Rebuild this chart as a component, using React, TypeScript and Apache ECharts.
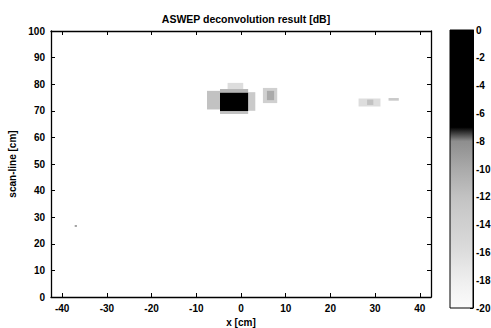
import React, { useEffect, useRef } from "react";
import * as echarts from "echarts";

// Colour scale of the deconvolution result: index i corresponds to (-20 + i) dB
const DB_MIN = -20;
const DB_MAX = 0;
const COLORMAP = [
  "#fbfbfb", "#f5f5f5", "#eeeeee", "#e6e6e6", "#dddddd",
  "#d6d6d6", "#d0d0d0", "#cacaca", "#c2c2c2", "#b6b6b6",
  "#aaaaaa", "#9c9c9c", "#8e8e8e", "#000000", "#000000",
  "#000000", "#000000", "#000000", "#000000", "#000000",
  "#000000",
];

// Reflector patches: [x0, x1, y0, y1, level in dB]  (x, y in cm)
const PATCHES: number[][] = [
  [-7.6, -4.7, 70.5, 77.5, -12],
  [-4.7, 1.6, 76.8, 78.2, -11],
  [-3.0, 0.5, 78.2, 80.5, -16],
  [-4.7, 1.6, 68.8, 69.9, -12],
  [1.6, 3.2, 70.0, 77.0, -13],
  [-4.7, 1.6, 69.9, 76.8, -1],
  [4.9, 8.1, 72.9, 78.6, -14],
  [5.8, 7.4, 74.0, 77.5, -10],
  [26.3, 31.2, 71.6, 74.6, -16],
  [28.2, 29.6, 72.2, 74.2, -12],
  [33.0, 35.3, 73.8, 74.8, -13],
  [-37.2, -36.7, 26.4, 27.0, -8],
];

const X_RANGE = [-42.5, 42.5];
const Y_RANGE = [0, 100];

const FONT = "Liberation Sans, Arial, sans-serif";
const labelStyle = { color: "#000", fontSize: 10, fontWeight: "bold" as const, fontFamily: FONT };
const lineStyle = { color: "#000", width: 1.3 };

export default function App() {
  const ref = useRef<HTMLDivElement>(null);

  useEffect(() => {
    document.body.style.margin = "0";
    const chart = echarts.init(ref.current!, null, { renderer: "svg" });

    const stops = COLORMAP.map((c, i) => ({
      offset: 1 - i / (COLORMAP.length - 1),
      color: c,
    })).reverse();

    const xCommon = {
      type: "value" as const,
      min: X_RANGE[0],
      max: X_RANGE[1],
      splitNumber: 8,
      splitLine: { show: false },
      axisLine: { show: true, onZero: false, lineStyle },
      axisTick: { show: true, inside: true, length: 4, lineStyle: { color: "#000" } },
    };
    const yCommon = {
      type: "value" as const,
      min: Y_RANGE[0],
      max: Y_RANGE[1],
      interval: 10,
      splitLine: { show: false },
      axisLine: { show: true, onZero: false, lineStyle },
      axisTick: { show: true, inside: true, length: 4, lineStyle: { color: "#000" } },
    };

    chart.setOption({
      animation: false,
      backgroundColor: "#fff",
      title: {
        text: "ASWEP deconvolution result [dB]",
        left: 241,
        textAlign: "center",
        top: 8,
        textStyle: { ...labelStyle, fontSize: 10.5 },
      },
      grid: [
        { left: 51, right: 60, top: 31, bottom: 31, outerBoundsMode: "none" },
        { left: 450, width: 23, top: 30, bottom: 20, outerBoundsMode: "none" },
      ],
      xAxis: [
        {
          ...xCommon,
          gridIndex: 0,
          position: "bottom",
          name: "x [cm]",
          nameLocation: "middle",
          nameGap: 20,
          nameTextStyle: labelStyle,
          axisLabel: {
            ...labelStyle,
            margin: 6,
            formatter: (v: number) => (Math.abs(v % 10) < 1e-6 ? String(v) : ""),
          },
        },
        { ...xCommon, gridIndex: 0, position: "top", axisLabel: { show: false } },
        { type: "value", gridIndex: 1, min: 0, max: 1, show: false },
      ],
      yAxis: [
        {
          ...yCommon,
          gridIndex: 0,
          position: "left",
          name: "scan-line [cm]",
          nameLocation: "middle",
          nameGap: 24,
          nameTextStyle: labelStyle,
          axisLabel: { ...labelStyle, margin: 6 },
        },
        { ...yCommon, gridIndex: 0, position: "right", axisLabel: { show: false } },
        {
          type: "value",
          gridIndex: 1,
          min: DB_MIN,
          max: DB_MAX,
          interval: 2,
          position: "right",
          splitLine: { show: false },
          axisLine: { show: true, onZero: false, lineStyle: { color: "#000", width: 1 } },
          axisTick: { show: true, inside: true, length: 3, lineStyle: { color: "#000" } },
          axisLabel: {
            ...labelStyle,
            margin: 3,
            showMinLabel: true,
            showMaxLabel: true,
            hideOverlap: false,
          },
        },
      ],
      visualMap: {
        type: "continuous",
        show: false,
        min: DB_MIN,
        max: DB_MAX,
        dimension: 4,
        seriesIndex: 0,
        inRange: { color: COLORMAP },
      },
      series: [
        {
          type: "custom",
          xAxisIndex: 0,
          yAxisIndex: 0,
          encode: { x: [0, 1], y: [2, 3] },
          data: PATCHES,
          clip: true,
          renderItem: (_params: any, api: any) => {
            const a = api.coord([api.value(0), api.value(3)]);
            const b = api.coord([api.value(1), api.value(2)]);
            return {
              type: "rect",
              shape: { x: a[0], y: a[1], width: b[0] - a[0], height: b[1] - a[1] },
              style: { fill: api.visual("color") },
            };
          },
        },
        {
          type: "custom",
          xAxisIndex: 2,
          yAxisIndex: 2,
          encode: { x: [0, 1], y: [2, 3] },
          data: [[0, 1, DB_MIN, DB_MAX]],
          silent: true,
          renderItem: (_params: any, api: any) => {
            const a = api.coord([api.value(0), api.value(3)]);
            const b = api.coord([api.value(1), api.value(2)]);
            return {
              type: "rect",
              shape: { x: a[0], y: a[1], width: b[0] - a[0], height: b[1] - a[1] },
              style: {
                fill: new echarts.graphic.LinearGradient(0, 0, 0, 1, stops),
                stroke: "#000",
                lineWidth: 1,
              },
            };
          },
        },
      ],
    });

    return () => chart.dispose();
  }, []);

  return <div ref={ref} style={{ width: 491, height: 328 }} />;
}
